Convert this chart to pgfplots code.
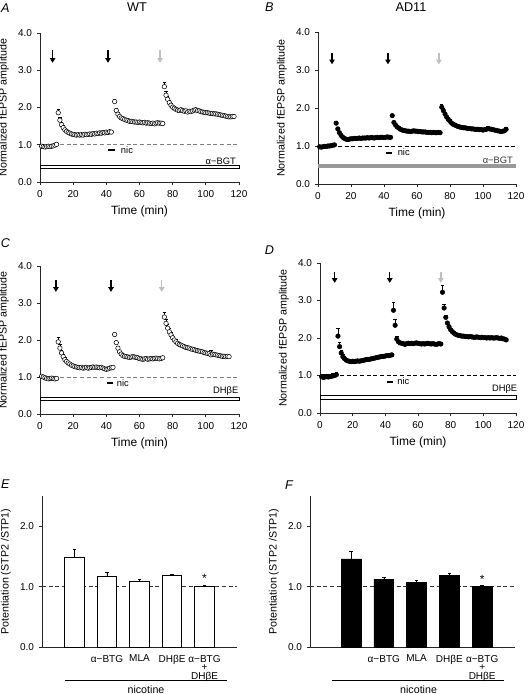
\documentclass[border=0pt]{standalone}
\usepackage{fontspec}
\setmainfont{Liberation Sans}
\usepackage{pgfplots}
\pgfplotsset{compat=1.18}
\usepackage{pgfplotstable}
\usetikzlibrary{arrows.meta}

\pgfplotstableread{
t y e
1 0.96 0.02
2 0.95 0.02
3 0.94 0.02
4 0.95 0.02
5 0.96 0.02
6 0.95 0.02
7 0.96 0.02
8 0.97 0.02
9 0.99 0.03
10 1.01 0.03
11 1.86 0.10
12 1.66 0.08
13 1.54 0.06
14 1.46 0.05
15 1.40 0.05
16 1.36 0.04
17 1.33 0.04
18 1.31 0.03
19 1.29 0.03
20 1.28 0.03
21 1.27 0.03
22 1.26 0.03
23 1.27 0.03
24 1.26 0.03
25 1.27 0.03
26 1.26 0.03
27 1.28 0.03
28 1.27 0.03
29 1.28 0.03
30 1.29 0.03
31 1.28 0.03
32 1.30 0.03
33 1.29 0.03
34 1.31 0.03
35 1.30 0.03
36 1.32 0.03
37 1.31 0.03
38 1.33 0.03
39 1.32 0.03
40 1.34 0.03
41 1.33 0.03
42 1.35 0.03
43 1.34 0.03
45 2.16 0.05
46 1.92 0.05
47 1.82 0.04
48 1.76 0.04
49 1.72 0.03
50 1.70 0.03
51 1.68 0.03
52 1.66 0.03
53 1.65 0.03
54 1.63 0.03
55 1.63 0.03
56 1.62 0.03
57 1.61 0.03
58 1.61 0.03
59 1.60 0.03
60 1.61 0.03
61 1.60 0.03
62 1.59 0.03
63 1.60 0.03
64 1.58 0.03
65 1.59 0.03
66 1.58 0.03
67 1.57 0.03
68 1.58 0.03
69 1.56 0.03
70 1.58 0.03
71 1.59 0.03
72 1.58 0.03
73 1.58 0.03
74 1.57 0.03
75 2.56 0.12
76 2.33 0.10
77 2.22 0.09
78 2.13 0.07
79 2.06 0.06
80 2.01 0.05
81 1.98 0.05
82 1.95 0.04
83 1.93 0.04
84 1.92 0.04
85 1.94 0.04
86 1.92 0.04
87 1.90 0.04
88 1.91 0.04
89 1.88 0.04
90 1.90 0.04
91 1.89 0.04
92 1.91 0.04
93 1.93 0.04
94 1.94 0.04
95 1.92 0.04
96 1.91 0.04
97 1.89 0.04
98 1.88 0.04
99 1.87 0.04
100 1.86 0.04
101 1.86 0.04
102 1.85 0.04
103 1.84 0.04
104 1.84 0.04
105 1.83 0.04
106 1.83 0.04
107 1.82 0.04
108 1.81 0.04
109 1.80 0.04
110 1.79 0.04
111 1.78 0.04
112 1.77 0.04
113 1.76 0.04
114 1.75 0.04
115 1.75 0.04
116 1.76 0.04
117 1.76 0.04
}\tabA

\pgfplotstableread{
t y e
1 0.98 0.01
2 0.97 0.01
3 0.98 0.01
4 0.99 0.01
5 0.99 0.01
6 1.00 0.01
7 1.00 0.01
8 1.01 0.01
9 1.02 0.01
10 1.03 0.01
11 1.60 0.04
12 1.45 0.03
13 1.35 0.03
14 1.28 0.02
15 1.23 0.02
16 1.20 0.02
17 1.18 0.02
18 1.17 0.02
19 1.18 0.02
20 1.19 0.02
21 1.19 0.02
22 1.20 0.02
23 1.20 0.02
24 1.20 0.02
25 1.21 0.02
26 1.20 0.02
27 1.21 0.02
28 1.21 0.02
29 1.21 0.02
30 1.22 0.02
31 1.21 0.02
32 1.22 0.02
33 1.22 0.02
34 1.21 0.02
35 1.22 0.02
36 1.23 0.02
37 1.22 0.02
38 1.23 0.02
39 1.23 0.02
40 1.22 0.02
41 1.23 0.02
42 1.24 0.02
43 1.23 0.02
44 1.23 0.02
45 1.80 0.03
46 1.62 0.02
47 1.55 0.02
48 1.50 0.02
49 1.47 0.02
50 1.44 0.02
51 1.42 0.02
52 1.41 0.02
53 1.40 0.02
54 1.39 0.02
55 1.39 0.02
56 1.38 0.02
57 1.39 0.02
58 1.40 0.02
59 1.39 0.02
60 1.39 0.02
61 1.38 0.02
62 1.38 0.02
63 1.37 0.02
64 1.37 0.02
65 1.37 0.02
66 1.36 0.02
67 1.36 0.02
68 1.36 0.02
69 1.35 0.02
70 1.36 0.02
71 1.35 0.02
72 1.35 0.02
73 1.36 0.02
74 1.35 0.02
75 2.02 0.08
76 1.93 0.07
77 1.84 0.06
78 1.76 0.06
79 1.70 0.05
80 1.65 0.05
81 1.60 0.04
82 1.57 0.04
83 1.55 0.04
84 1.53 0.03
85 1.51 0.03
86 1.50 0.03
87 1.49 0.03
88 1.48 0.03
89 1.48 0.03
90 1.47 0.03
91 1.46 0.03
92 1.46 0.03
93 1.45 0.03
94 1.45 0.03
95 1.44 0.03
96 1.44 0.03
97 1.44 0.03
98 1.43 0.03
99 1.43 0.03
100 1.42 0.03
101 1.43 0.03
102 1.44 0.03
103 1.46 0.06
104 1.45 0.03
105 1.44 0.03
106 1.43 0.03
107 1.42 0.03
108 1.41 0.03
109 1.40 0.03
110 1.39 0.03
111 1.38 0.03
112 1.39 0.03
113 1.40 0.05
114 1.44 0.06
}\tabB

\pgfplotstableread{
t y e
1 1.02 0.02
2 1.00 0.02
3 0.98 0.02
4 0.96 0.02
5 0.95 0.02
6 0.96 0.02
7 0.97 0.02
8 0.96 0.02
9 0.95 0.02
10 0.96 0.02
11 1.95 0.13
12 1.78 0.10
13 1.65 0.08
14 1.55 0.07
15 1.47 0.06
16 1.42 0.06
17 1.38 0.05
18 1.35 0.05
19 1.32 0.04
20 1.30 0.04
21 1.28 0.04
22 1.27 0.04
23 1.26 0.04
24 1.25 0.04
25 1.26 0.03
26 1.24 0.03
27 1.25 0.03
28 1.26 0.03
29 1.24 0.03
30 1.25 0.03
31 1.26 0.03
32 1.27 0.03
33 1.26 0.03
34 1.27 0.03
35 1.26 0.03
36 1.25 0.03
37 1.26 0.03
38 1.24 0.03
39 1.22 0.03
40 1.21 0.03
41 1.22 0.03
42 1.24 0.03
43 1.25 0.03
44 1.26 0.03
45 2.15 0.04
46 1.93 0.04
47 1.78 0.03
48 1.68 0.03
49 1.62 0.03
50 1.58 0.03
51 1.56 0.03
52 1.55 0.03
53 1.54 0.03
54 1.53 0.03
55 1.54 0.03
56 1.55 0.03
57 1.54 0.03
58 1.53 0.03
59 1.52 0.03
60 1.50 0.03
61 1.49 0.03
62 1.48 0.03
63 1.49 0.03
64 1.50 0.03
65 1.48 0.03
66 1.49 0.03
67 1.50 0.03
68 1.49 0.03
69 1.50 0.03
70 1.51 0.03
71 1.50 0.03
72 1.49 0.03
73 1.50 0.03
74 1.52 0.03
75 2.62 0.13
76 2.45 0.11
77 2.32 0.10
78 2.22 0.09
79 2.14 0.08
80 2.06 0.07
81 2.00 0.06
82 1.95 0.06
83 1.91 0.05
84 1.88 0.05
85 1.86 0.04
86 1.84 0.04
87 1.82 0.04
88 1.80 0.04
89 1.79 0.04
90 1.78 0.04
91 1.76 0.04
92 1.75 0.04
93 1.74 0.04
94 1.72 0.04
95 1.71 0.04
96 1.70 0.04
97 1.69 0.04
98 1.68 0.04
99 1.66 0.04
100 1.65 0.04
101 1.64 0.04
102 1.63 0.04
103 1.60 0.12
104 1.62 0.04
105 1.61 0.04
106 1.60 0.04
107 1.59 0.04
108 1.58 0.03
109 1.57 0.03
110 1.56 0.03
111 1.56 0.03
112 1.55 0.03
113 1.56 0.03
114 1.55 0.03
}\tabC

\pgfplotstableread{
t y e
1 0.97 0.06
2 0.95 0.06
3 0.96 0.06
4 0.97 0.06
5 0.96 0.06
6 0.97 0.06
7 0.98 0.06
8 0.99 0.06
9 1.00 0.06
10 1.02 0.06
11 2.05 0.20
12 1.77 0.12
13 1.60 0.08
14 1.50 0.07
15 1.45 0.06
16 1.41 0.05
17 1.39 0.05
18 1.38 0.04
19 1.37 0.04
20 1.38 0.04
21 1.37 0.04
22 1.38 0.04
23 1.39 0.04
24 1.38 0.04
25 1.39 0.04
26 1.40 0.04
27 1.41 0.04
28 1.42 0.04
29 1.43 0.04
30 1.43 0.04
31 1.44 0.04
32 1.45 0.04
33 1.46 0.04
34 1.47 0.04
35 1.48 0.04
36 1.49 0.04
37 1.50 0.04
38 1.51 0.04
39 1.51 0.04
40 1.52 0.04
41 1.53 0.04
42 1.53 0.04
43 1.54 0.04
44 1.55 0.04
45 2.74 0.22
46 2.34 0.17
47 1.97 0.08
48 1.90 0.04
49 1.87 0.04
50 1.86 0.04
51 1.85 0.04
52 1.83 0.06
53 1.85 0.04
54 1.86 0.04
55 1.85 0.04
56 1.86 0.04
57 1.85 0.04
58 1.86 0.04
59 1.87 0.04
60 1.86 0.04
61 1.85 0.04
62 1.84 0.04
63 1.85 0.04
64 1.84 0.04
65 1.85 0.04
66 1.86 0.04
67 1.85 0.04
68 1.84 0.04
69 1.85 0.04
70 1.84 0.04
71 1.83 0.04
72 1.84 0.04
73 1.85 0.04
74 1.84 0.04
75 3.22 0.18
76 2.80 0.10
77 2.55 0.06
78 2.40 0.04
79 2.30 0.04
80 2.22 0.04
81 2.17 0.04
82 2.13 0.04
83 2.10 0.04
84 2.08 0.04
85 2.07 0.04
86 2.06 0.04
87 2.05 0.04
88 2.05 0.04
89 2.04 0.04
90 2.04 0.04
91 2.03 0.04
92 2.04 0.04
93 2.03 0.04
94 2.02 0.04
95 2.02 0.04
96 2.03 0.04
97 2.02 0.04
98 2.01 0.04
99 2.02 0.04
100 2.01 0.04
101 2.01 0.04
102 2.00 0.04
103 2.01 0.04
104 2.00 0.04
105 2.01 0.04
106 2.00 0.04
107 2.00 0.04
108 2.01 0.04
109 2.00 0.04
110 1.99 0.04
111 2.00 0.04
112 1.98 0.04
113 1.97 0.05
114 1.95 0.04
}\tabD

\pgfplotstableread{
x y e
1 1.49 0.13
2 1.17 0.06
3 1.09 0.03
4 1.19 0.01
5 1.01 0.01
}\tabE

\pgfplotstableread{
x y e
1 1.46 0.12
2 1.12 0.03
3 1.07 0.03
4 1.18 0.04
5 1.00 0.02
}\tabF

\pgfplotsset{
  base/.style={scale only axis, anchor=south west, axis lines=left,
    axis line style={-, black!85, line width=0.5pt},
    tick align=outside, major tick length=2.5pt,
    tick style={black!85, line width=0.5pt}, clip=false,
    /pgf/number format/assume math mode=true,
    tick label style={font=\fontsize{7.5}{9}\selectfont},
    label style={font=\fontsize{8}{9.6}\selectfont},
    xlabel style={font=\fontsize{9}{10}\selectfont},
    yticklabel style={/pgf/number format/.cd, fixed, fixed zerofill, precision=1}},
  tc/.style={base, xmin=0, xmax=120, ymin=0, ymax=4,
    xtick={0,20,...,120}, ytick={0,1,2,3,4},
    xlabel={Time (min)}, ylabel={Normalized fEPSP amplitude}},
  bars/.style={base, ymin=0, ymax=2.5, ytick={0,1,2},
    xtick={2,3,4,5},
    xticklabels={α−BTG, MLA, DHβE, {α−BTG\\+\\DHβE}},
    xticklabel style={align=center, font=\fontsize{7.5}{6.5}\selectfont},
    x tick style={draw=none},
    ylabel={Potentiation (STP2 /STP1)}},
  openm/.style={only marks, mark=*, mark size=1.7pt,
    mark options={fill=white, draw=black, line width=0.4pt},
    error bars/.cd, y dir=plus, y explicit,
    error bar style={line width=0.4pt, black},
    error mark options={rotate=90, mark size=1.3pt, line width=0.4pt, black}},
  fillm/.style={only marks, mark=*, mark size=1.7pt,
    mark options={fill=black, draw=black},
    error bars/.cd, y dir=plus, y explicit,
    error bar style={line width=0.4pt, black},
    error mark options={rotate=90, mark size=1.3pt, line width=0.4pt, black}},
  dl/.style={dash pattern=on 3pt off 2pt, line width=0.6pt},
}
\tikzset{
  arr/.style={line width=1.1pt, -{Triangle[length=3.5pt, width=4pt]}},
  small/.style={font=\fontsize{7}{8}\selectfont},
}

\begin{document}
\begin{tikzpicture}
\useasboundingbox (0,0) rectangle (396pt,-520.5pt);

% titles and panel letters
\node[font=\fontsize{9.5}{11}\selectfont] at (102.75pt,-5.5pt) {WT};
\node[font=\fontsize{9.5}{11}\selectfont] at (308.25pt,-5.5pt) {AD11};
\node[font=\itshape\fontsize{9.5}{11}\selectfont] at (4pt,-6pt) {A};
\node[font=\itshape\fontsize{9.5}{11}\selectfont] at (202pt,-5.5pt) {B};
\node[font=\itshape\fontsize{9.5}{11}\selectfont] at (4pt,-182.25pt) {C};
\node[font=\itshape\fontsize{9.5}{11}\selectfont] at (202pt,-187.5pt) {D};
\node[font=\itshape\fontsize{9.5}{11}\selectfont] at (4pt,-363pt) {E};
\node[font=\itshape\fontsize{9.5}{11}\selectfont] at (216.75pt,-363.75pt) {F};

% Panel A
\begin{axis}[tc, at={(30pt,-136.5pt)}, width=149.25pt, height=111.75pt]
\addplot[dl, black!50] coordinates {(0,1) (120,1)};
\addplot[openm] table[x=t, y=y, y error=e]{\tabA};
\draw[fill=white, line width=0.4pt] (axis cs:0,0.36) rectangle (axis cs:120,0.44);
\node[small] at (axis cs:109,0.55) {α−BGT};
\draw[line width=1.4pt] (axis cs:41,0.86) -- (axis cs:45,0.86);
\node[small, anchor=west] at (axis cs:46,0.86) {nic};
\draw[arr, black] (axis cs:7.6,3.55) -- (axis cs:7.6,3.2);
\draw[arr, black] (axis cs:41,3.55) -- (axis cs:41,3.2);
\draw[arr, black!25] (axis cs:72.4,3.55) -- (axis cs:72.4,3.2);
\end{axis}

% Panel B
\begin{axis}[tc, at={(238.5pt,-138pt)}, width=148.5pt, height=114pt]
\addplot[dl, black] coordinates {(0,1) (120,1)};
\addplot[fillm] table[x=t, y=y, y error=e]{\tabB};
\fill[black!40] (axis cs:0,0.42) rectangle (axis cs:120,0.53);
\node[small, black!80] at (axis cs:109,0.63) {α−BGT};
\draw[line width=1.4pt] (axis cs:41.2,0.82) -- (axis cs:44.8,0.82);
\node[small, anchor=west] at (axis cs:45.5,0.84) {nic};
\draw[arr, black] (axis cs:8.5,3.45) -- (axis cs:8.5,3.15);
\draw[arr, black] (axis cs:42.4,3.45) -- (axis cs:42.4,3.15);
\draw[arr, black!25] (axis cs:73.3,3.45) -- (axis cs:73.3,3.15);
\end{axis}

% Panel C
\begin{axis}[tc, at={(30pt,-310.5pt)}, width=149.25pt, height=111pt]
\addplot[dl, black!50] coordinates {(0,1) (120,1)};
\addplot[openm] table[x=t, y=y, y error=e]{\tabC};
\draw[fill=white, line width=0.4pt] (axis cs:0,0.38) rectangle (axis cs:120,0.45);
\node[small] at (axis cs:112,0.63) {DHβE};
\draw[line width=1.4pt] (axis cs:40.5,0.83) -- (axis cs:44,0.83);
\node[small, anchor=west] at (axis cs:43.5,0.84) {nic};
\draw[arr, black] (axis cs:9.6,3.62) -- (axis cs:9.6,3.3);
\draw[arr, black] (axis cs:42.8,3.62) -- (axis cs:42.8,3.3);
\draw[arr, black!25] (axis cs:73.4,3.62) -- (axis cs:73.4,3.3);
\end{axis}

% Panel D
\begin{axis}[tc, at={(240pt,-309.75pt)}, width=147pt, height=112.5pt]
\addplot[dl, black] coordinates {(0,1) (120,1)};
\addplot[fillm] table[x=t, y=y, y error=e]{\tabD};
\draw[fill=white, line width=0.4pt] (axis cs:0,0.37) rectangle (axis cs:120,0.46);
\node[small] at (axis cs:113,0.63) {DHβE};
\draw[line width=1.4pt] (axis cs:41,0.83) -- (axis cs:44.8,0.83);
\node[small, anchor=west] at (axis cs:44.5,0.84) {nic};
\draw[arr, black] (axis cs:9,3.77) -- (axis cs:9,3.47);
\draw[arr, black] (axis cs:42.7,3.77) -- (axis cs:42.7,3.47);
\draw[arr, black!25] (axis cs:74,3.77) -- (axis cs:74,3.47);
\end{axis}

% Panel E
\begin{axis}[bars, at={(31.5pt,-485.25pt)}, width=146.25pt, height=113.25pt, xmin=0, xmax=6]
\addplot[dl, black!80] coordinates {(0,1) (6,1)};
\addplot[ybar, bar width=0.6, fill=white, draw=black, line width=0.4pt,
  error bars/.cd, y dir=plus, y explicit,
  error bar style={line width=0.4pt, black},
  error mark options={rotate=90, mark size=1.3pt, line width=0.4pt, black}]
  table[x=x, y=y, y error=e]{\tabE};
\node[font=\fontsize{9}{10}\selectfont] at (axis cs:5,1.13) {*};
\draw[line width=0.5pt] (axis cs:0.7,-0.545) -- (axis cs:5.7,-0.545);
\node[font=\fontsize{8}{9.6}\selectfont] at (axis cs:3.2,-0.71) {nicotine};
\end{axis}

% Panel F
\begin{axis}[bars, at={(232.5pt,-485.25pt)}, width=153.75pt, height=113.25pt, xmin=-0.25, xmax=6]
\addplot[dl, black!80] coordinates {(-0.25,1) (6,1)};
\addplot[ybar, bar width=0.6, fill=black, draw=black, line width=0.4pt,
  error bars/.cd, y dir=plus, y explicit,
  error bar style={line width=0.4pt, black},
  error mark options={rotate=90, mark size=1.3pt, line width=0.4pt, black}]
  table[x=x, y=y, y error=e]{\tabF};
\node[font=\fontsize{9}{10}\selectfont] at (axis cs:5,1.12) {*};
\draw[line width=0.5pt] (axis cs:0.42,-0.545) -- (axis cs:5.67,-0.545);
\node[font=\fontsize{8}{9.6}\selectfont] at (axis cs:3.06,-0.71) {nicotine};
\end{axis}

\end{tikzpicture}
\end{document}
